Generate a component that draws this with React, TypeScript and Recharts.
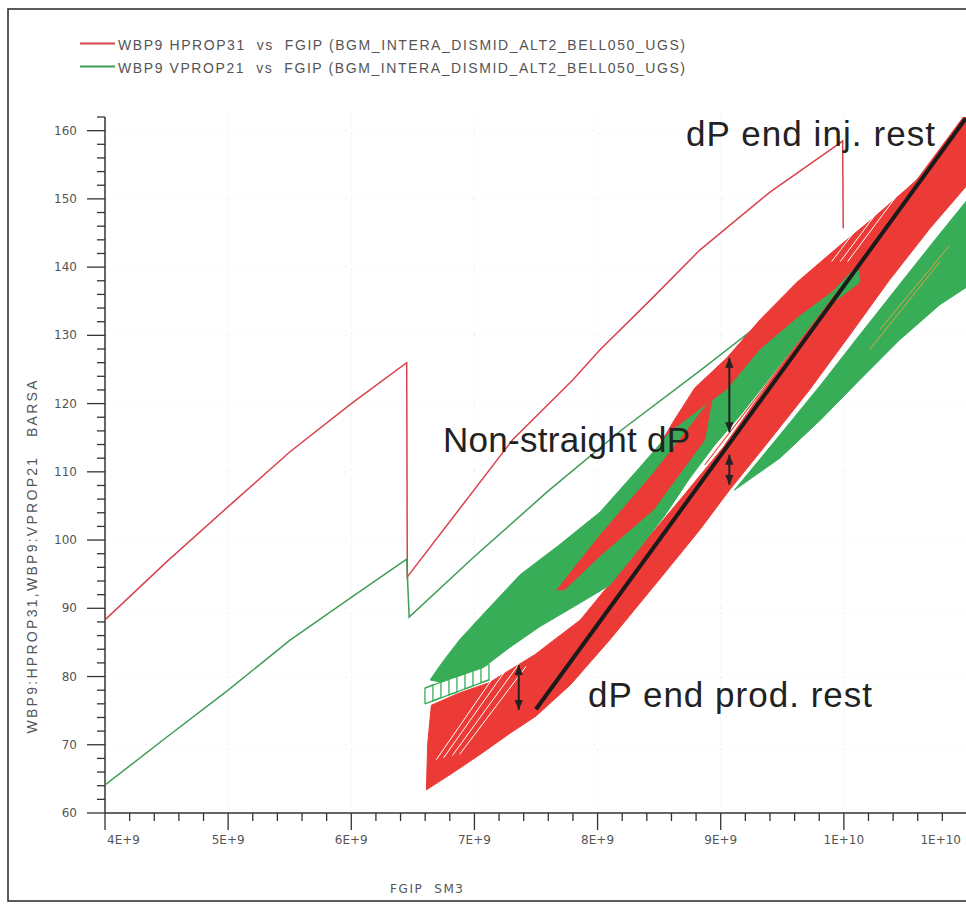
import React from "react";
import { ScatterChart, Scatter, XAxis, YAxis, CartesianGrid, Polygon } from "recharts";

type Pt = [number, number];

// FGIP in 1E+9 sm3, pressure in barsa
const hprop31Initial: Pt[] = [
  [4.0, 88.3], [4.5, 96.8], [5.0, 104.9], [5.5, 112.9], [6.0, 120.0], [6.45, 126.0],
  [6.455, 94.6], [6.88, 104.6], [7.31, 114.7], [7.8, 123.5], [8.02, 127.9], [8.43, 135.2],
  [8.83, 142.5], [9.4, 151.0], [9.97, 158.2], [9.99, 158.5], [9.995, 145.7],
];

const vprop21Initial: Pt[] = [
  [4.0, 64.1], [4.5, 71.1], [5.0, 78.0], [5.5, 85.3], [6.0, 91.6], [6.45, 97.2],
  [6.47, 88.7], [7.0, 97.6], [7.6, 107.2], [8.2, 116.2], [8.83, 124.8], [9.4, 132.8], [9.97, 141.0],
];

// outlines of the cycling envelopes
const hpropCyclesLow: Pt[] = [
  [6.61, 63.4], [6.8, 65.6], [7.04, 68.5], [7.29, 71.7], [7.5, 74.2], [7.78, 78.8],
  [8.1, 85.4], [8.51, 94.4], [8.83, 101.5], [9.07, 107.3], [9.4, 114.7], [9.72, 122.0],
  [10.05, 130.1], [10.37, 138.1], [10.7, 145.7], [11.0, 152.0], [11.0, 162.0], [10.97, 162.0],
  [10.47, 149.8], [9.89, 135.2], [9.29, 120.5], [9.02, 113.6], [8.67, 105.9], [8.26, 97.1],
  [7.86, 88.3], [7.49, 83.2], [7.12, 79.1], [6.88, 77.6], [6.65, 75.8], [6.62, 70.0],
];

const hpropCyclesUp: Pt[] = [
  [8.47, 112.9], [8.62, 117.5], [8.79, 122.3], [9.05, 126.7], [9.32, 132.3], [9.62, 137.8],
  [9.97, 143.2], [10.2, 146.6], [10.5, 151.3], [10.79, 156.0], [11.0, 161.3],
  [10.88, 159.4], [10.5, 149.8], [10.15, 141.0], [9.91, 135.2], [9.64, 130.8], [9.32, 124.9],
  [9.05, 119.8], [8.75, 113.2], [8.5, 109.5],
];

const hpropStreak: Pt[] = [
  [7.67, 92.7], [8.02, 100.7], [8.45, 109.7], [8.93, 120.8],
  [8.87, 114.7], [8.45, 104.4], [8.02, 97.7], [7.73, 92.7],
];

const vpropCyclesMain: Pt[] = [
  [6.64, 79.5], [6.74, 82.1], [6.88, 85.4], [7.09, 89.5], [7.37, 94.9], [7.69, 99.3],
  [8.02, 104.1], [8.34, 110.6], [8.59, 115.8], [8.83, 119.1], [9.05, 122.0], [9.32, 127.9],
  [9.64, 132.8], [9.91, 136.4], [10.11, 140.2],
  [10.13, 137.8], [9.89, 134.5], [9.64, 129.3], [9.4, 123.8], [9.16, 118.3], [8.95, 113.9],
  [8.75, 109.1], [8.55, 103.7], [8.34, 98.8], [8.1, 93.4], [7.86, 90.8], [7.53, 87.3],
  [7.29, 84.3], [7.07, 81.3], [6.88, 80.1], [6.72, 79.2],
];

const vpropCyclesLow: Pt[] = [
  [9.11, 107.3], [9.48, 115.4], [9.81, 122.7], [10.13, 130.1], [10.45, 137.4], [10.74, 144.0],
  [11.0, 149.8], [11.0, 137.1], [10.78, 134.5], [10.45, 129.3], [10.13, 123.5], [9.81, 117.6],
  [9.48, 112.0],
];

// loop ends at low inventory (green ladder)
const vpropLoopEnds: Pt[] = [
  [6.598, 76.0], [6.598, 78.3], [6.663, 78.8], [6.663, 76.4], [6.728, 76.9], [6.728, 79.2],
  [6.793, 79.6], [6.793, 77.3], [6.858, 77.7], [6.858, 80.1], [6.923, 80.5], [6.923, 78.2],
  [6.988, 78.6], [6.988, 81.0], [7.053, 81.4], [7.053, 79.1], [7.118, 79.5], [7.118, 81.8],
];
const vpropLoopBottom: Pt[] = [[6.598, 76.0], [7.118, 79.5]];
const vpropLoopTop: Pt[] = [[6.598, 78.3], [7.118, 81.8]];

// gaps between successive loops
const loopGap1: Pt[] = [[6.69, 67.8], [7.25, 82.4]];
const loopGap2: Pt[] = [[6.75, 68.1], [7.3, 82.1]];
const loopGap3: Pt[] = [[6.82, 68.4], [7.36, 81.8]];
const loopGap4: Pt[] = [[6.88, 68.6], [7.42, 81.5]];
const loopGap5: Pt[] = [[10.03, 140.8], [10.54, 153.1]];
const loopGap6: Pt[] = [[9.97, 140.8], [10.46, 152.6]];
const loopGap7: Pt[] = [[9.9, 140.8], [10.36, 151.7]];
const vpropInner1: Pt[] = [[10.29, 130.8], [10.86, 143.2]];
const vpropInner2: Pt[] = [[10.21, 127.9], [10.78, 140.8]];
const hpropInner: Pt[] = [[8.87, 111.0], [9.97, 136.9]];

// hand drawn dP guide and arrows
const dpLine: Pt[] = [[7.5, 75.2], [10.99, 161.8]];
const dpArrowInjUp: Pt[] = [[9.07, 126.7], [9.07, 115.8]];
const dpArrowInjLow: Pt[] = [[9.07, 112.5], [9.07, 108.1]];
const dpArrowProd: Pt[] = [[7.36, 81.7], [7.36, 75.1]];

const xTicks = Array.from({ length: 36 }, (_, i) => 4 + i / 5);
const yTicks = Array.from({ length: 52 }, (_, i) => 60 + i * 2);
const xTickLabels = ["4E+9", "5E+9", "6E+9", "7E+9", "8E+9", "9E+9", "1E+10", "1E+10"];
const yTickLabels = ["60", "70", "80", "90", "100", "110", "120", "130", "140", "150", "160"];
const xGrid = [5, 6, 7, 8, 9, 10];
const yGrid = [70, 80, 90, 100, 110, 120, 130, 140, 150, 160];

const RED = "#ec3a36";
const GREEN = "#38ad58";
const AXIS = "#333";

const toXY = (pts: Pt[]) => pts.map(([x, y]) => ({ x, y }));
const noDot = () => <g />;
const filled = (c: string) => (p: any) => <Polygon points={p.points} fill={c} stroke={c} strokeWidth={1} />;
const arrowLine = (p: any) => {
  const [a, b] = p.points;
  return (
    <line x1={a.x} y1={a.y} x2={b.x} y2={b.y} stroke="#222" strokeWidth={2}
      markerStart="url(#dpArrow)" markerEnd="url(#dpArrow)" />
  );
};

function XTick(props: any) {
  const { x, y, payload } = props;
  const k = Math.round((payload.value - 4) * 5);
  const major = k % 5 === 0;
  const idx = k / 5;
  let anchor = "middle";
  let dx = 0;
  if (idx === 0) { anchor = "start"; dx = 2; }
  if (idx === 7) { anchor = "end"; dx = -6; }
  return (
    <g>
      <line x1={x} x2={x} y1={y} y2={y + (major ? 17 : 8)} stroke={AXIS} strokeWidth={1.3} />
      {major && (
        <text x={x + dx} y={y + 31} textAnchor={anchor} fontSize={12} fill="#555" fontFamily="DejaVu Sans">
          {xTickLabels[idx]}
        </text>
      )}
    </g>
  );
}

function YTick(props: any) {
  const { x, y, payload } = props;
  const k = Math.round((payload.value - 60) / 2);
  const major = k % 5 === 0;
  return (
    <g>
      <line x1={x - (major ? 18 : 8)} x2={x} y1={y} y2={y} stroke={AXIS} strokeWidth={1.3} />
      {major && (
        <text x={x - 28} y={y + 4} textAnchor="end" fontSize={12} fill="#555" fontFamily="DejaVu Sans">
          {yTickLabels[k / 5]}
        </text>
      )}
    </g>
  );
}

function thin(data: Pt[], color: string, w = 1.5) {
  return (
    <Scatter data={toXY(data)} shape={noDot} line={{ stroke: color, strokeWidth: w }}
      lineType="joint" isAnimationActive={false} />
  );
}

function band(data: Pt[], color: string) {
  return (
    <Scatter data={toXY(data)} shape={noDot} line={filled(color)} lineType="joint" isAnimationActive={false} />
  );
}

function arrow(data: Pt[]) {
  return <Scatter data={toXY(data)} shape={noDot} line={arrowLine} lineType="joint" isAnimationActive={false} />;
}

export default function App() {
  return (
    <div style={{ position: "relative", width: 966, height: 904, overflow: "hidden", background: "#fff" }}>
      <style>{"html,body{margin:0;padding:0;overflow:hidden;background:#fff}"}</style>
      <div style={{ position: "absolute", left: 0, top: 0 }}>
        <ScatterChart width={980} height={904} margin={{ top: 117, right: 13, bottom: 51, left: 45 }}>
          <CartesianGrid stroke="#eeeeee" strokeDasharray="2 6" horizontalValues={yGrid} verticalValues={xGrid} />
          <XAxis type="number" dataKey="x" domain={[4, 11]} ticks={xTicks} interval={0} height={40}
            tickSize={0} tickMargin={0} tickLine={false} tick={XTick} allowDataOverflow
            axisLine={{ stroke: AXIS, strokeWidth: 1.5 }} />
          <YAxis type="number" dataKey="y" domain={[60, 162]} ticks={yTicks} interval={0} width={60}
            tickSize={0} tickMargin={0} tickLine={false} tick={YTick} allowDataOverflow
            axisLine={{ stroke: AXIS, strokeWidth: 1.5 }} />

          {thin(hprop31Initial, "#d8434e")}
          {thin(vprop21Initial, "#3f9c57")}

          {band(hpropCyclesLow, RED)}
          {thin(loopGap1, "#fff", 1)}
          {thin(loopGap2, "#fff", 1)}
          {thin(loopGap3, "#fff", 1)}
          {thin(loopGap4, "#fff", 1)}
          {band(hpropCyclesUp, RED)}
          {band(vpropCyclesMain, GREEN)}
          {band(hpropStreak, RED)}
          {thin(vpropLoopEnds, GREEN, 1.3)}
          {thin(vpropLoopBottom, GREEN, 1.3)}
          {thin(vpropLoopTop, GREEN, 1.3)}
          {thin(loopGap5, "#fff", 1)}
          {thin(loopGap6, "#fff", 1)}
          {thin(loopGap7, "#fff", 1)}
          {band(vpropCyclesLow, GREEN)}
          {thin(vpropInner1, "#e0a244", 1)}
          {thin(vpropInner2, "#e0a244", 1)}
          {thin(hpropInner, "#e34a3a", 1.2)}

          {thin(dpLine, "#1b1b1b", 4)}
          {arrow(dpArrowInjUp)}
          {arrow(dpArrowInjLow)}
          {arrow(dpArrowProd)}
        </ScatterChart>
      </div>

      <svg width={966} height={904} style={{ position: "absolute", left: 0, top: 0, pointerEvents: "none" }}>
        <defs>
          <marker id="dpArrow" viewBox="0 0 12 10" refX="12" refY="5" markerWidth="5" markerHeight="4.5"
            orient="auto-start-reverse">
            <path d="M0,0 L12,5 L0,10 z" fill="#222" />
          </marker>
        </defs>
        <rect x={8} y={9} width={1000} height={892} fill="none" stroke="#333" strokeWidth={1.6} />

        <line x1={80} x2={115} y1={43.5} y2={43.5} stroke="#d8434e" strokeWidth={2} />
        <line x1={80} x2={115} y1={66.5} y2={66.5} stroke="#3f9c57" strokeWidth={2} />
        <text x={118} y={50} fontSize={14} fill="#555" fontFamily="Liberation Sans" textLength={567}
          lengthAdjust="spacing" style={{ whiteSpace: "pre" }}>
          WBP9 HPROP31  vs  FGIP (BGM_INTERA_DISMID_ALT2_BELL050_UGS)
        </text>
        <text x={118} y={73} fontSize={14} fill="#555" fontFamily="Liberation Sans" textLength={567}
          lengthAdjust="spacing" style={{ whiteSpace: "pre" }}>
          WBP9 VPROP21  vs  FGIP (BGM_INTERA_DISMID_ALT2_BELL050_UGS)
        </text>

        <text transform="translate(32,557) rotate(-90)" textAnchor="middle" dominantBaseline="central"
          fontSize={14} fill="#555" fontFamily="Liberation Sans" textLength={353} lengthAdjust="spacing"
          style={{ whiteSpace: "pre" }}>
          WBP9:HPROP31,WBP9:VPROP21   BARSA
        </text>
        <text x={390} y={893} fontSize={12} fill="#555" fontFamily="DejaVu Sans" textLength={73}
          lengthAdjust="spacing" style={{ whiteSpace: "pre" }}>
          FGIP  SM3
        </text>

        <text x={686} y={146} fontSize={35} fill="#222" fontFamily="Liberation Sans" textLength={249} lengthAdjust="spacing">
          dP end inj. rest
        </text>
        <text x={443} y={452} fontSize={35} fill="#222" fontFamily="Liberation Sans" textLength={247} lengthAdjust="spacing">
          Non-straight dP
        </text>
        <text x={588} y={707} fontSize={35} fill="#222" fontFamily="Liberation Sans" textLength={284} lengthAdjust="spacing">
          dP end prod. rest
        </text>
      </svg>
    </div>
  );
}
